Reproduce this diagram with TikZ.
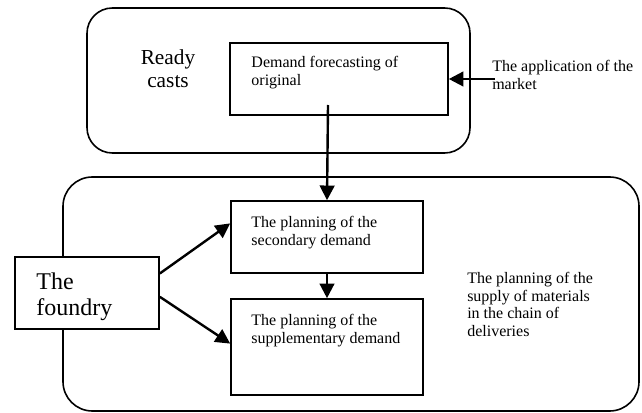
\documentclass[tikz,border=0pt]{standalone}
\usepackage{fontspec}
\setmainfont{Liberation Serif}
\usetikzlibrary{arrows.meta}

\begin{document}
\begin{tikzpicture}[
                x=0.75pt, y=-0.75pt,
                box/.style={draw, fill=white, line width=1.2pt, inner sep=0pt},
                txt/.style={inner sep=0pt, align=left, font=\fontsize{12}{13.2}\selectfont},
                big/.style={inner sep=0pt, align=left, font=\fontsize{18}{20}\selectfont},
                flow/.style={line width=1.8pt, -{Triangle[length=11pt, width=11pt]}} ]

            \useasboundingbox (0,0) rectangle (642,413);

            % the two rounded regions
            \draw[line width=1.2pt, rounded corners=19pt] (87,8) rectangle (470,153);
            \draw[line width=1.2pt, rounded corners=22pt] (63,177) rectangle (639,411);

            \node[inner sep=0pt, align=center, font=\fontsize{16}{17.5}\selectfont]
                (ready) at (168,69) {Ready\\casts};

            \node[box, minimum width=163.5pt, minimum height=54pt] (forecast) at (339,79) {};
            \node[box, minimum width=144pt, minimum height=54pt] (secondary) at (327,237) {};
            \node[box, minimum width=144pt, minimum height=72pt] (supplementary) at (327,347) {};
            \node[box, minimum width=108pt, minimum height=54pt] (foundry) at (87,293) {};

            \node[txt, anchor=north west] (forecastlbl) at ([shift={(22,14)}]forecast.north west)
                {Demand forecasting of\\original};
            \node[txt, anchor=north west] (secondarylbl) at ([shift={(21,16)}]secondary.north west)
                {The planning of the\\secondary demand};
            \node[txt, anchor=north west] (supplementarylbl) at ([shift={(21,16)}]supplementary.north west)
                {The planning of the\\supplementary demand};
            \node[big, anchor=north west] (foundrylbl) at ([shift={(22,16)}]foundry.north west)
                {The\\foundry};
            \node[txt, anchor=north west] (marketlbl) at (492,60) {The application of the\\market};
            \node[txt, anchor=north west] (supplylbl) at (467,272)
                {The planning of the\\supply of materials\\in the chain of\\deliveries};

            \coordinate (fstart) at (328,105);
            \coordinate (mstart) at (495,79);

            \draw[flow] (mstart) -- (forecast.east);
            \draw[flow] (fstart) -- (secondary.north);
            \draw[flow] (secondary.south) -- (supplementary.north);
            \draw[flow] (foundry.15) -- (secondary.172);
            \draw[flow] (foundry.-3) -- (supplementary.178);
        \end{tikzpicture}
\end{document}
